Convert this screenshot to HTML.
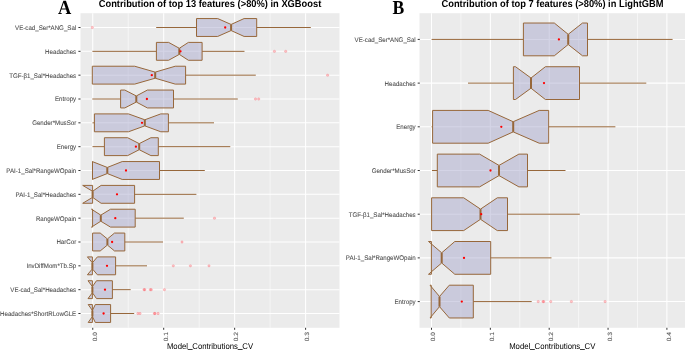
<!DOCTYPE html>
<html><head><meta charset="utf-8"><style>
html,body{margin:0;padding:0;background:#FFFFFF;}
svg{display:block;will-change:transform;}
text{font-family:"Liberation Sans",sans-serif;text-rendering:geometricPrecision;}
.ax{font-size:6.15px;fill:#4D4D4D;stroke:#4D4D4D;stroke-width:0.07px;}
.at{font-size:7.75px;fill:#000000;}
.us{stroke:#000000;stroke-width:0.25px;}
.tt{font-size:9.33px;font-weight:bold;fill:#000000;}
.lb{font-family:"Liberation Serif",serif;font-weight:bold;fill:#000000;}
</style></head><body>
<svg width="685" height="350" viewBox="0 0 685 350">
<rect x="0" y="0" width="685" height="350" fill="#FFFFFF"/>
<rect x="80.5" y="13.2" width="259" height="314.6" fill="#EBEBEB"/>
<line x1="128.22" y1="13.2" x2="128.22" y2="327.8" stroke="#FFFFFF" stroke-width="0.55"/>
<line x1="199.18" y1="13.2" x2="199.18" y2="327.8" stroke="#FFFFFF" stroke-width="0.55"/>
<line x1="270.12" y1="13.2" x2="270.12" y2="327.8" stroke="#FFFFFF" stroke-width="0.55"/>
<line x1="92.75" y1="13.2" x2="92.75" y2="327.8" stroke="#FFFFFF" stroke-width="1.05"/>
<line x1="163.7" y1="13.2" x2="163.7" y2="327.8" stroke="#FFFFFF" stroke-width="1.05"/>
<line x1="234.65" y1="13.2" x2="234.65" y2="327.8" stroke="#FFFFFF" stroke-width="1.05"/>
<line x1="305.6" y1="13.2" x2="305.6" y2="327.8" stroke="#FFFFFF" stroke-width="1.05"/>
<line x1="80.5" y1="27.5" x2="339.5" y2="27.5" stroke="#FFFFFF" stroke-width="1.05"/>
<line x1="80.5" y1="51.33" x2="339.5" y2="51.33" stroke="#FFFFFF" stroke-width="1.05"/>
<line x1="80.5" y1="75.17" x2="339.5" y2="75.17" stroke="#FFFFFF" stroke-width="1.05"/>
<line x1="80.5" y1="99" x2="339.5" y2="99" stroke="#FFFFFF" stroke-width="1.05"/>
<line x1="80.5" y1="122.83" x2="339.5" y2="122.83" stroke="#FFFFFF" stroke-width="1.05"/>
<line x1="80.5" y1="146.67" x2="339.5" y2="146.67" stroke="#FFFFFF" stroke-width="1.05"/>
<line x1="80.5" y1="170.5" x2="339.5" y2="170.5" stroke="#FFFFFF" stroke-width="1.05"/>
<line x1="80.5" y1="194.33" x2="339.5" y2="194.33" stroke="#FFFFFF" stroke-width="1.05"/>
<line x1="80.5" y1="218.17" x2="339.5" y2="218.17" stroke="#FFFFFF" stroke-width="1.05"/>
<line x1="80.5" y1="242" x2="339.5" y2="242" stroke="#FFFFFF" stroke-width="1.05"/>
<line x1="80.5" y1="265.83" x2="339.5" y2="265.83" stroke="#FFFFFF" stroke-width="1.05"/>
<line x1="80.5" y1="289.67" x2="339.5" y2="289.67" stroke="#FFFFFF" stroke-width="1.05"/>
<line x1="80.5" y1="313.5" x2="339.5" y2="313.5" stroke="#FFFFFF" stroke-width="1.05"/>
<line x1="156.2" y1="27.5" x2="196.5" y2="27.5" stroke="#97673A" stroke-width="1"/>
<line x1="256.7" y1="27.5" x2="310.8" y2="27.5" stroke="#97673A" stroke-width="1"/>
<circle cx="92.3" cy="27.5" r="1.2" fill="rgba(255,50,60,0.28)" stroke="rgba(255,50,60,0.32)" stroke-width="0.5"/>
<path d="M256.7 18.56 L244.1 18.56 L231.1 24.46 L217.7 18.56 L196.5 18.56 L196.5 36.44 L217.7 36.44 L231.1 30.54 L244.1 36.44 L256.7 36.44 Z" fill="#AAAACD" fill-opacity="0.5" stroke="#97673A" stroke-width="1" stroke-linejoin="miter" stroke-miterlimit="10"/>
<line x1="231.1" y1="24.46" x2="231.1" y2="30.54" stroke="#97673A" stroke-width="2"/>
<circle cx="225.2" cy="27.5" r="1.15" fill="#FF0000"/>
<line x1="92.4" y1="51.33" x2="156.4" y2="51.33" stroke="#97673A" stroke-width="1"/>
<line x1="202.1" y1="51.33" x2="244.5" y2="51.33" stroke="#97673A" stroke-width="1"/>
<circle cx="274.4" cy="51.33" r="1.2" fill="rgba(255,50,60,0.28)" stroke="rgba(255,50,60,0.32)" stroke-width="0.5"/>
<circle cx="285.7" cy="51.33" r="1.2" fill="rgba(255,50,60,0.28)" stroke="rgba(255,50,60,0.32)" stroke-width="0.5"/>
<path d="M202.1 42.4 L188.4 42.4 L179.3 48.29 L168.6 42.4 L156.4 42.4 L156.4 60.27 L168.6 60.27 L179.3 54.37 L188.4 60.27 L202.1 60.27 Z" fill="#AAAACD" fill-opacity="0.5" stroke="#97673A" stroke-width="1" stroke-linejoin="miter" stroke-miterlimit="10"/>
<line x1="179.3" y1="48.29" x2="179.3" y2="54.37" stroke="#97673A" stroke-width="2"/>
<circle cx="180.5" cy="51.33" r="1.15" fill="#FF0000"/>
<line x1="185.6" y1="75.17" x2="255.8" y2="75.17" stroke="#97673A" stroke-width="1"/>
<circle cx="327.6" cy="75.17" r="1.2" fill="rgba(255,50,60,0.28)" stroke="rgba(255,50,60,0.32)" stroke-width="0.5"/>
<path d="M185.6 66.23 L175.2 66.23 L155.2 72.13 L134.7 66.23 L92.3 66.23 L92.3 84.1 L134.7 84.1 L155.2 78.21 L175.2 84.1 L185.6 84.1 Z" fill="#AAAACD" fill-opacity="0.5" stroke="#97673A" stroke-width="1" stroke-linejoin="miter" stroke-miterlimit="10"/>
<line x1="155.2" y1="72.13" x2="155.2" y2="78.21" stroke="#97673A" stroke-width="2"/>
<circle cx="151.8" cy="75.17" r="1.15" fill="#FF0000"/>
<line x1="92.3" y1="99" x2="120.6" y2="99" stroke="#97673A" stroke-width="1"/>
<line x1="173.5" y1="99" x2="237.8" y2="99" stroke="#97673A" stroke-width="1"/>
<circle cx="255.5" cy="99" r="1.2" fill="rgba(255,50,60,0.28)" stroke="rgba(255,50,60,0.32)" stroke-width="0.5"/>
<circle cx="258.7" cy="99" r="1.2" fill="rgba(255,50,60,0.28)" stroke="rgba(255,50,60,0.32)" stroke-width="0.5"/>
<path d="M173.5 90.06 L147.4 90.06 L136.3 95.96 L124.8 90.06 L120.6 90.06 L120.6 107.94 L124.8 107.94 L136.3 102.04 L147.4 107.94 L173.5 107.94 Z" fill="#AAAACD" fill-opacity="0.5" stroke="#97673A" stroke-width="1" stroke-linejoin="miter" stroke-miterlimit="10"/>
<line x1="136.3" y1="95.96" x2="136.3" y2="102.04" stroke="#97673A" stroke-width="2"/>
<circle cx="146.9" cy="99" r="1.15" fill="#FF0000"/>
<line x1="92.5" y1="122.83" x2="94.4" y2="122.83" stroke="#97673A" stroke-width="1"/>
<line x1="168.4" y1="122.83" x2="214" y2="122.83" stroke="#97673A" stroke-width="1"/>
<path d="M168.4 113.9 L160.8 113.9 L144.8 119.79 L128.5 113.9 L94.4 113.9 L94.4 131.77 L128.5 131.77 L144.8 125.87 L160.8 131.77 L168.4 131.77 Z" fill="#AAAACD" fill-opacity="0.5" stroke="#97673A" stroke-width="1" stroke-linejoin="miter" stroke-miterlimit="10"/>
<line x1="144.8" y1="119.79" x2="144.8" y2="125.87" stroke="#97673A" stroke-width="2"/>
<circle cx="142" cy="122.83" r="1.15" fill="#FF0000"/>
<line x1="92.5" y1="146.67" x2="104.4" y2="146.67" stroke="#97673A" stroke-width="1"/>
<line x1="158.3" y1="146.67" x2="230.3" y2="146.67" stroke="#97673A" stroke-width="1"/>
<path d="M158.3 137.73 L150.9 137.73 L139.2 143.63 L127.7 137.73 L104.4 137.73 L104.4 155.6 L127.7 155.6 L139.2 149.71 L150.9 155.6 L158.3 155.6 Z" fill="#AAAACD" fill-opacity="0.5" stroke="#97673A" stroke-width="1" stroke-linejoin="miter" stroke-miterlimit="10"/>
<line x1="139.2" y1="143.63" x2="139.2" y2="149.71" stroke="#97673A" stroke-width="2"/>
<circle cx="135.9" cy="146.67" r="1.15" fill="#FF0000"/>
<line x1="159.5" y1="170.5" x2="204.8" y2="170.5" stroke="#97673A" stroke-width="1"/>
<path d="M159.5 161.56 L122.2 161.56 L107.3 167.46 L92.3 161.56 L92.5 161.56 L92.5 179.44 L92.3 179.44 L107.3 173.54 L122.2 179.44 L159.5 179.44 Z" fill="#AAAACD" fill-opacity="0.5" stroke="#97673A" stroke-width="1" stroke-linejoin="miter" stroke-miterlimit="10"/>
<line x1="107.3" y1="167.46" x2="107.3" y2="173.54" stroke="#97673A" stroke-width="2"/>
<circle cx="126" cy="170.5" r="1.15" fill="#FF0000"/>
<line x1="134.6" y1="194.33" x2="196.4" y2="194.33" stroke="#97673A" stroke-width="1"/>
<path d="M134.6 185.4 L101.1 185.4 L92.6 191.29 L82.7 185.4 L92.6 185.4 L92.6 203.27 L82.7 203.27 L92.6 197.37 L101.1 203.27 L134.6 203.27 Z" fill="#AAAACD" fill-opacity="0.5" stroke="#97673A" stroke-width="1" stroke-linejoin="miter" stroke-miterlimit="10"/>
<line x1="92.6" y1="191.29" x2="92.6" y2="197.37" stroke="#97673A" stroke-width="2"/>
<circle cx="117" cy="194.33" r="1.15" fill="#FF0000"/>
<line x1="135.2" y1="218.17" x2="183.8" y2="218.17" stroke="#97673A" stroke-width="1"/>
<circle cx="214.5" cy="218.17" r="1.2" fill="rgba(255,50,60,0.28)" stroke="rgba(255,50,60,0.32)" stroke-width="0.5"/>
<path d="M135.2 209.23 L110.5 209.23 L100.8 215.13 L91.5 209.23 L92.6 209.23 L92.6 227.1 L91.5 227.1 L100.8 221.21 L110.5 227.1 L135.2 227.1 Z" fill="#AAAACD" fill-opacity="0.5" stroke="#97673A" stroke-width="1" stroke-linejoin="miter" stroke-miterlimit="10"/>
<line x1="100.8" y1="215.13" x2="100.8" y2="221.21" stroke="#97673A" stroke-width="2"/>
<circle cx="115.3" cy="218.17" r="1.15" fill="#FF0000"/>
<line x1="124.8" y1="242" x2="163" y2="242" stroke="#97673A" stroke-width="1"/>
<circle cx="182" cy="242" r="1.2" fill="rgba(255,50,60,0.28)" stroke="rgba(255,50,60,0.32)" stroke-width="0.5"/>
<path d="M124.8 233.06 L114.5 233.06 L107.4 238.96 L100.2 233.06 L92.6 233.06 L92.6 250.94 L100.2 250.94 L107.4 245.04 L114.5 250.94 L124.8 250.94 Z" fill="#AAAACD" fill-opacity="0.5" stroke="#97673A" stroke-width="1" stroke-linejoin="miter" stroke-miterlimit="10"/>
<line x1="107.4" y1="238.96" x2="107.4" y2="245.04" stroke="#97673A" stroke-width="2"/>
<circle cx="112.1" cy="242" r="1.15" fill="#FF0000"/>
<line x1="115.6" y1="265.83" x2="147" y2="265.83" stroke="#97673A" stroke-width="1"/>
<circle cx="173.3" cy="265.83" r="1.2" fill="rgba(255,50,60,0.28)" stroke="rgba(255,50,60,0.32)" stroke-width="0.5"/>
<circle cx="190.4" cy="265.83" r="1.2" fill="rgba(255,50,60,0.28)" stroke="rgba(255,50,60,0.32)" stroke-width="0.5"/>
<circle cx="209" cy="265.83" r="1.2" fill="rgba(255,50,60,0.28)" stroke="rgba(255,50,60,0.32)" stroke-width="0.5"/>
<path d="M115.6 256.9 L97.4 256.9 L92.4 262.79 L87.4 256.9 L92.4 256.9 L92.4 274.77 L87.4 274.77 L92.4 268.87 L97.4 274.77 L115.6 274.77 Z" fill="#AAAACD" fill-opacity="0.5" stroke="#97673A" stroke-width="1" stroke-linejoin="miter" stroke-miterlimit="10"/>
<line x1="92.4" y1="262.79" x2="92.4" y2="268.87" stroke="#97673A" stroke-width="2"/>
<circle cx="107" cy="265.83" r="1.15" fill="#FF0000"/>
<line x1="112.4" y1="289.67" x2="130.7" y2="289.67" stroke="#97673A" stroke-width="1"/>
<circle cx="144" cy="289.67" r="1.2" fill="rgba(255,50,60,0.28)" stroke="rgba(255,50,60,0.32)" stroke-width="0.5"/>
<circle cx="144.8" cy="289.67" r="1.2" fill="rgba(255,50,60,0.28)" stroke="rgba(255,50,60,0.32)" stroke-width="0.5"/>
<circle cx="150.3" cy="289.67" r="1.2" fill="rgba(255,50,60,0.28)" stroke="rgba(255,50,60,0.32)" stroke-width="0.5"/>
<circle cx="151.3" cy="289.67" r="1.2" fill="rgba(255,50,60,0.28)" stroke="rgba(255,50,60,0.32)" stroke-width="0.5"/>
<circle cx="164.4" cy="289.67" r="1.2" fill="rgba(255,50,60,0.28)" stroke="rgba(255,50,60,0.32)" stroke-width="0.5"/>
<path d="M112.4 280.73 L96.5 280.73 L92.4 286.63 L88 280.73 L92.4 280.73 L92.4 298.6 L88 298.6 L92.4 292.71 L96.5 298.6 L112.4 298.6 Z" fill="#AAAACD" fill-opacity="0.5" stroke="#97673A" stroke-width="1" stroke-linejoin="miter" stroke-miterlimit="10"/>
<line x1="92.4" y1="286.63" x2="92.4" y2="292.71" stroke="#97673A" stroke-width="2"/>
<circle cx="105" cy="289.67" r="1.15" fill="#FF0000"/>
<line x1="110.6" y1="313.5" x2="134.2" y2="313.5" stroke="#97673A" stroke-width="1"/>
<circle cx="137.9" cy="313.5" r="1.2" fill="rgba(255,50,60,0.28)" stroke="rgba(255,50,60,0.32)" stroke-width="0.5"/>
<circle cx="140" cy="313.5" r="1.2" fill="rgba(255,50,60,0.28)" stroke="rgba(255,50,60,0.32)" stroke-width="0.5"/>
<circle cx="154.4" cy="313.5" r="1.2" fill="rgba(255,50,60,0.28)" stroke="rgba(255,50,60,0.32)" stroke-width="0.5"/>
<circle cx="155" cy="313.5" r="1.2" fill="rgba(255,50,60,0.28)" stroke="rgba(255,50,60,0.32)" stroke-width="0.5"/>
<circle cx="158.1" cy="313.5" r="1.2" fill="rgba(255,50,60,0.28)" stroke="rgba(255,50,60,0.32)" stroke-width="0.5"/>
<path d="M110.6 304.56 L95.3 304.56 L92.4 310.46 L88.2 304.56 L92.4 304.56 L92.4 322.44 L88.2 322.44 L92.4 316.54 L95.3 322.44 L110.6 322.44 Z" fill="#AAAACD" fill-opacity="0.5" stroke="#97673A" stroke-width="1" stroke-linejoin="miter" stroke-miterlimit="10"/>
<line x1="92.4" y1="310.46" x2="92.4" y2="316.54" stroke="#97673A" stroke-width="2"/>
<circle cx="103.6" cy="313.5" r="1.15" fill="#FF0000"/>
<line x1="78.4" y1="27.5" x2="80.5" y2="27.5" stroke="#333333" stroke-width="1"/>
<text transform="translate(76.2,29.95) scale(1,1.08)" text-anchor="end" class="ax">VE-cad_Ser*ANG_Sal</text>
<line x1="78.4" y1="51.33" x2="80.5" y2="51.33" stroke="#333333" stroke-width="1"/>
<text transform="translate(76.2,53.78) scale(1,1.08)" text-anchor="end" class="ax">Headaches</text>
<line x1="78.4" y1="75.17" x2="80.5" y2="75.17" stroke="#333333" stroke-width="1"/>
<text transform="translate(76.2,77.62) scale(1,1.08)" text-anchor="end" class="ax">TGF-β1_Sal*Headaches</text>
<line x1="78.4" y1="99" x2="80.5" y2="99" stroke="#333333" stroke-width="1"/>
<text transform="translate(76.2,101.45) scale(1,1.08)" text-anchor="end" class="ax">Entropy</text>
<line x1="78.4" y1="122.83" x2="80.5" y2="122.83" stroke="#333333" stroke-width="1"/>
<text transform="translate(76.2,125.28) scale(1,1.08)" text-anchor="end" class="ax">Gender*MusSor</text>
<line x1="78.4" y1="146.67" x2="80.5" y2="146.67" stroke="#333333" stroke-width="1"/>
<text transform="translate(76.2,149.12) scale(1,1.08)" text-anchor="end" class="ax">Energy</text>
<line x1="78.4" y1="170.5" x2="80.5" y2="170.5" stroke="#333333" stroke-width="1"/>
<text transform="translate(76.2,172.95) scale(1,1.08)" text-anchor="end" class="ax">PAI-1_Sal*RangeWOpain</text>
<line x1="78.4" y1="194.33" x2="80.5" y2="194.33" stroke="#333333" stroke-width="1"/>
<text transform="translate(76.2,196.78) scale(1,1.08)" text-anchor="end" class="ax">PAI-1_Sal*Headaches</text>
<line x1="78.4" y1="218.17" x2="80.5" y2="218.17" stroke="#333333" stroke-width="1"/>
<text transform="translate(76.2,220.62) scale(1,1.08)" text-anchor="end" class="ax">RangeWOpain</text>
<line x1="78.4" y1="242" x2="80.5" y2="242" stroke="#333333" stroke-width="1"/>
<text transform="translate(76.2,244.45) scale(1,1.08)" text-anchor="end" class="ax">HarCor</text>
<line x1="78.4" y1="265.83" x2="80.5" y2="265.83" stroke="#333333" stroke-width="1"/>
<text transform="translate(76.2,268.28) scale(1,1.08)" text-anchor="end" class="ax">InvDiffMom*Tb.Sp</text>
<line x1="78.4" y1="289.67" x2="80.5" y2="289.67" stroke="#333333" stroke-width="1"/>
<text transform="translate(76.2,292.12) scale(1,1.08)" text-anchor="end" class="ax">VE-cad_Sal*Headaches</text>
<line x1="78.4" y1="313.5" x2="80.5" y2="313.5" stroke="#333333" stroke-width="1"/>
<text transform="translate(76.2,315.95) scale(1,1.08)" text-anchor="end" class="ax">Headaches*ShortRLowGLE</text>
<line x1="92.75" y1="327.8" x2="92.75" y2="329.8" stroke="#333333" stroke-width="1"/>
<text transform="translate(96.55,332.1) rotate(-90) scale(1.08,1)" text-anchor="end" class="ax">0.0</text>
<line x1="163.7" y1="327.8" x2="163.7" y2="329.8" stroke="#333333" stroke-width="1"/>
<text transform="translate(167.5,332.1) rotate(-90) scale(1.08,1)" text-anchor="end" class="ax">0.1</text>
<line x1="234.65" y1="327.8" x2="234.65" y2="329.8" stroke="#333333" stroke-width="1"/>
<text transform="translate(238.45,332.1) rotate(-90) scale(1.08,1)" text-anchor="end" class="ax">0.2</text>
<line x1="305.6" y1="327.8" x2="305.6" y2="329.8" stroke="#333333" stroke-width="1"/>
<text transform="translate(309.4,332.1) rotate(-90) scale(1.08,1)" text-anchor="end" class="ax">0.3</text>
<text transform="translate(210,348.6) scale(1,1.08)" text-anchor="middle" class="at">Model<tspan dy="-0.4" class="us">_</tspan><tspan dy="0.4">Contributions</tspan><tspan dy="-0.4" class="us">_</tspan><tspan dy="0.4">CV</tspan></text>
<rect x="419.5" y="13.2" width="265.5" height="314.6" fill="#EBEBEB"/>
<line x1="460.93" y1="13.2" x2="460.93" y2="327.8" stroke="#FFFFFF" stroke-width="0.55"/>
<line x1="519.77" y1="13.2" x2="519.77" y2="327.8" stroke="#FFFFFF" stroke-width="0.55"/>
<line x1="578.62" y1="13.2" x2="578.62" y2="327.8" stroke="#FFFFFF" stroke-width="0.55"/>
<line x1="637.48" y1="13.2" x2="637.48" y2="327.8" stroke="#FFFFFF" stroke-width="0.55"/>
<line x1="431.5" y1="13.2" x2="431.5" y2="327.8" stroke="#FFFFFF" stroke-width="1.05"/>
<line x1="490.35" y1="13.2" x2="490.35" y2="327.8" stroke="#FFFFFF" stroke-width="1.05"/>
<line x1="549.2" y1="13.2" x2="549.2" y2="327.8" stroke="#FFFFFF" stroke-width="1.05"/>
<line x1="608.05" y1="13.2" x2="608.05" y2="327.8" stroke="#FFFFFF" stroke-width="1.05"/>
<line x1="666.9" y1="13.2" x2="666.9" y2="327.8" stroke="#FFFFFF" stroke-width="1.05"/>
<line x1="419.5" y1="39.42" x2="685" y2="39.42" stroke="#FFFFFF" stroke-width="1.05"/>
<line x1="419.5" y1="83.11" x2="685" y2="83.11" stroke="#FFFFFF" stroke-width="1.05"/>
<line x1="419.5" y1="126.81" x2="685" y2="126.81" stroke="#FFFFFF" stroke-width="1.05"/>
<line x1="419.5" y1="170.5" x2="685" y2="170.5" stroke="#FFFFFF" stroke-width="1.05"/>
<line x1="419.5" y1="214.19" x2="685" y2="214.19" stroke="#FFFFFF" stroke-width="1.05"/>
<line x1="419.5" y1="257.89" x2="685" y2="257.89" stroke="#FFFFFF" stroke-width="1.05"/>
<line x1="419.5" y1="301.58" x2="685" y2="301.58" stroke="#FFFFFF" stroke-width="1.05"/>
<line x1="431.6" y1="39.42" x2="523.4" y2="39.42" stroke="#97673A" stroke-width="1"/>
<line x1="587.5" y1="39.42" x2="672.6" y2="39.42" stroke="#97673A" stroke-width="1"/>
<path d="M587.5 23.03 L582.5 23.03 L568.2 34.34 L554.3 23.03 L523.4 23.03 L523.4 55.8 L554.3 55.8 L568.2 44.5 L582.5 55.8 L587.5 55.8 Z" fill="#AAAACD" fill-opacity="0.5" stroke="#97673A" stroke-width="1" stroke-linejoin="miter" stroke-miterlimit="10"/>
<line x1="568.2" y1="34.34" x2="568.2" y2="44.5" stroke="#97673A" stroke-width="2"/>
<circle cx="558.9" cy="39.42" r="1.15" fill="#FF0000"/>
<line x1="468" y1="83.11" x2="513.4" y2="83.11" stroke="#97673A" stroke-width="1"/>
<line x1="579.5" y1="83.11" x2="646.3" y2="83.11" stroke="#97673A" stroke-width="1"/>
<path d="M579.5 66.73 L545.4 66.73 L531 78.03 L515.5 66.73 L513.4 66.73 L513.4 99.5 L515.5 99.5 L531 88.19 L545.4 99.5 L579.5 99.5 Z" fill="#AAAACD" fill-opacity="0.5" stroke="#97673A" stroke-width="1" stroke-linejoin="miter" stroke-miterlimit="10"/>
<line x1="531" y1="78.03" x2="531" y2="88.19" stroke="#97673A" stroke-width="2"/>
<circle cx="544" cy="83.11" r="1.15" fill="#FF0000"/>
<line x1="431.6" y1="126.81" x2="432.6" y2="126.81" stroke="#97673A" stroke-width="1"/>
<line x1="548.7" y1="126.81" x2="615.4" y2="126.81" stroke="#97673A" stroke-width="1"/>
<path d="M548.7 110.42 L539.2 110.42 L513.2 121.73 L488.2 110.42 L432.6 110.42 L432.6 143.19 L488.2 143.19 L513.2 131.89 L539.2 143.19 L548.7 143.19 Z" fill="#AAAACD" fill-opacity="0.5" stroke="#97673A" stroke-width="1" stroke-linejoin="miter" stroke-miterlimit="10"/>
<line x1="513.2" y1="121.73" x2="513.2" y2="131.89" stroke="#97673A" stroke-width="2"/>
<circle cx="501.3" cy="126.81" r="1.15" fill="#FF0000"/>
<line x1="432" y1="170.5" x2="437.3" y2="170.5" stroke="#97673A" stroke-width="1"/>
<line x1="527.5" y1="170.5" x2="565.5" y2="170.5" stroke="#97673A" stroke-width="1"/>
<path d="M527.5 154.11 L518.9 154.11 L499 165.42 L479.6 154.11 L437.3 154.11 L437.3 186.89 L479.6 186.89 L499 175.58 L518.9 186.89 L527.5 186.89 Z" fill="#AAAACD" fill-opacity="0.5" stroke="#97673A" stroke-width="1" stroke-linejoin="miter" stroke-miterlimit="10"/>
<line x1="499" y1="165.42" x2="499" y2="175.58" stroke="#97673A" stroke-width="2"/>
<circle cx="490.5" cy="170.5" r="1.15" fill="#FF0000"/>
<line x1="507.5" y1="214.19" x2="579.8" y2="214.19" stroke="#97673A" stroke-width="1"/>
<path d="M507.5 197.81 L497.3 197.81 L480.5 209.11 L463.7 197.81 L431.6 197.81 L431.6 230.58 L463.7 230.58 L480.5 219.27 L497.3 230.58 L507.5 230.58 Z" fill="#AAAACD" fill-opacity="0.5" stroke="#97673A" stroke-width="1" stroke-linejoin="miter" stroke-miterlimit="10"/>
<line x1="480.5" y1="209.11" x2="480.5" y2="219.27" stroke="#97673A" stroke-width="2"/>
<circle cx="481.2" cy="214.19" r="1.15" fill="#FF0000"/>
<line x1="490.7" y1="257.89" x2="551.5" y2="257.89" stroke="#97673A" stroke-width="1"/>
<path d="M490.7 241.5 L454.8 241.5 L441.7 252.81 L428.5 241.5 L431.4 241.5 L431.4 274.27 L428.5 274.27 L441.7 262.97 L454.8 274.27 L490.7 274.27 Z" fill="#AAAACD" fill-opacity="0.5" stroke="#97673A" stroke-width="1" stroke-linejoin="miter" stroke-miterlimit="10"/>
<line x1="441.7" y1="252.81" x2="441.7" y2="262.97" stroke="#97673A" stroke-width="2"/>
<circle cx="464" cy="257.89" r="1.15" fill="#FF0000"/>
<line x1="473.3" y1="301.58" x2="531.7" y2="301.58" stroke="#97673A" stroke-width="1"/>
<circle cx="538.2" cy="301.58" r="1.2" fill="rgba(255,50,60,0.28)" stroke="rgba(255,50,60,0.32)" stroke-width="0.5"/>
<circle cx="543" cy="301.58" r="1.2" fill="rgba(255,50,60,0.28)" stroke="rgba(255,50,60,0.32)" stroke-width="0.5"/>
<circle cx="543.8" cy="301.58" r="1.2" fill="rgba(255,50,60,0.28)" stroke="rgba(255,50,60,0.32)" stroke-width="0.5"/>
<circle cx="550.7" cy="301.58" r="1.2" fill="rgba(255,50,60,0.28)" stroke="rgba(255,50,60,0.32)" stroke-width="0.5"/>
<circle cx="571.4" cy="301.58" r="1.2" fill="rgba(255,50,60,0.28)" stroke="rgba(255,50,60,0.32)" stroke-width="0.5"/>
<circle cx="605.1" cy="301.58" r="1.2" fill="rgba(255,50,60,0.28)" stroke="rgba(255,50,60,0.32)" stroke-width="0.5"/>
<path d="M473.3 285.2 L449.3 285.2 L439.5 296.5 L430 285.2 L431.2 285.2 L431.2 317.97 L430 317.97 L439.5 306.66 L449.3 317.97 L473.3 317.97 Z" fill="#AAAACD" fill-opacity="0.5" stroke="#97673A" stroke-width="1" stroke-linejoin="miter" stroke-miterlimit="10"/>
<line x1="439.5" y1="296.5" x2="439.5" y2="306.66" stroke="#97673A" stroke-width="2"/>
<circle cx="461.8" cy="301.58" r="1.15" fill="#FF0000"/>
<line x1="417.7" y1="39.42" x2="419.8" y2="39.42" stroke="#333333" stroke-width="1"/>
<text transform="translate(415.7,41.87) scale(1,1.08)" text-anchor="end" class="ax">VE-cad_Ser*ANG_Sal</text>
<line x1="417.7" y1="83.11" x2="419.8" y2="83.11" stroke="#333333" stroke-width="1"/>
<text transform="translate(415.7,85.56) scale(1,1.08)" text-anchor="end" class="ax">Headaches</text>
<line x1="417.7" y1="126.81" x2="419.8" y2="126.81" stroke="#333333" stroke-width="1"/>
<text transform="translate(415.7,129.26) scale(1,1.08)" text-anchor="end" class="ax">Energy</text>
<line x1="417.7" y1="170.5" x2="419.8" y2="170.5" stroke="#333333" stroke-width="1"/>
<text transform="translate(415.7,172.95) scale(1,1.08)" text-anchor="end" class="ax">Gender*MusSor</text>
<line x1="417.7" y1="214.19" x2="419.8" y2="214.19" stroke="#333333" stroke-width="1"/>
<text transform="translate(415.7,216.64) scale(1,1.08)" text-anchor="end" class="ax">TGF-β1_Sal*Headaches</text>
<line x1="417.7" y1="257.89" x2="419.8" y2="257.89" stroke="#333333" stroke-width="1"/>
<text transform="translate(415.7,260.34) scale(1,1.08)" text-anchor="end" class="ax">PAI-1_Sal*RangeWOpain</text>
<line x1="417.7" y1="301.58" x2="419.8" y2="301.58" stroke="#333333" stroke-width="1"/>
<text transform="translate(415.7,304.03) scale(1,1.08)" text-anchor="end" class="ax">Entropy</text>
<line x1="431.5" y1="327.8" x2="431.5" y2="329.8" stroke="#333333" stroke-width="1"/>
<text transform="translate(435.3,332.1) rotate(-90) scale(1.08,1)" text-anchor="end" class="ax">0.0</text>
<line x1="490.35" y1="327.8" x2="490.35" y2="329.8" stroke="#333333" stroke-width="1"/>
<text transform="translate(494.15,332.1) rotate(-90) scale(1.08,1)" text-anchor="end" class="ax">0.1</text>
<line x1="549.2" y1="327.8" x2="549.2" y2="329.8" stroke="#333333" stroke-width="1"/>
<text transform="translate(553,332.1) rotate(-90) scale(1.08,1)" text-anchor="end" class="ax">0.2</text>
<line x1="608.05" y1="327.8" x2="608.05" y2="329.8" stroke="#333333" stroke-width="1"/>
<text transform="translate(611.85,332.1) rotate(-90) scale(1.08,1)" text-anchor="end" class="ax">0.3</text>
<line x1="666.9" y1="327.8" x2="666.9" y2="329.8" stroke="#333333" stroke-width="1"/>
<text transform="translate(670.7,332.1) rotate(-90) scale(1.08,1)" text-anchor="end" class="ax">0.4</text>
<text transform="translate(552.25,348.6) scale(1,1.08)" text-anchor="middle" class="at">Model<tspan dy="-0.4" class="us">_</tspan><tspan dy="0.4">Contributions</tspan><tspan dy="-0.4" class="us">_</tspan><tspan dy="0.4">CV</tspan></text>
<text transform="translate(210,7.1) scale(1,1.08)" text-anchor="middle" class="tt">Contribution of top 13 features (&gt;80%) in XGBoost</text>
<text transform="translate(552.5,7.1) scale(1,1.08)" text-anchor="middle" class="tt">Contribution of top 7 features (&gt;80%) in LightGBM</text>
<text transform="translate(58,13.7) scale(1,1.1)" class="lb" style="font-size:18.4px">A</text>
<text transform="translate(392.5,13.6) scale(1,1.12)" class="lb" style="font-size:17.6px">B</text>
</svg>
</body></html>
